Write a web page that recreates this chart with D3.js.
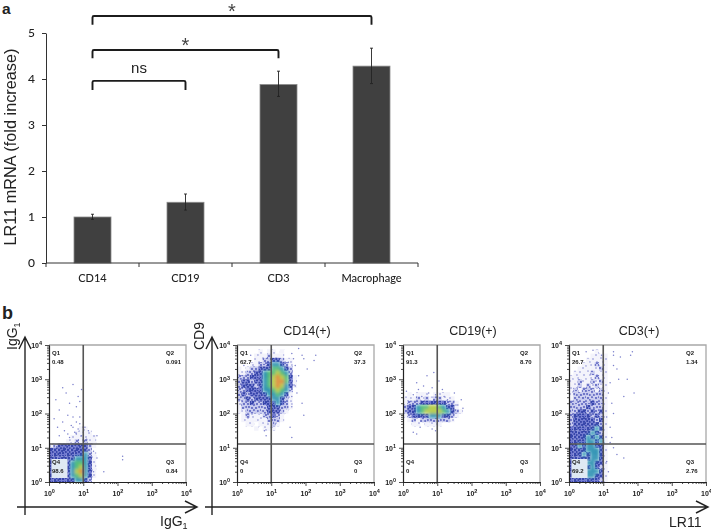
<!DOCTYPE html>
<html><head><meta charset="utf-8">
<script src="https://cdn.jsdelivr.net/npm/d3@7/dist/d3.min.js"></script>
<style>
html,body{margin:0;padding:0;background:#fff}
svg{display:block}
text{fill:#222}
.sans{font-family:"Liberation Sans",Arial,sans-serif}
.cal{font-family:Lato,"Open Sans",sans-serif;font-weight:500}
.tiny{font-family:"Liberation Sans",Arial,sans-serif;font-weight:700;font-size:6px;fill:#222}
</style></head><body><svg id="c" width="711" height="530"></svg>
<script>
// ---- Panel a ----
const categories=["CD14","CD19","CD3","Macrophage"];
const foldValues=[1.0,1.32,3.88,4.28];
const errLow=[0.95,1.15,3.62,3.9];
const errHigh=[1.06,1.5,4.17,4.67];
const yTicksA=[0,1,2,3,4,5];
const brackets=[
 {from:"CD14",to:"CD19",level:3.96,tip:3.76,label:"ns"},
 {from:"CD14",to:"CD3",level:4.63,tip:4.45,label:"*"},
 {from:"CD14",to:"Macrophage",level:5.37,tip:5.18,label:"*"}
];
// ---- Panel b : quadrant figures ----
const panelTitles=["","CD14(+)","CD19(+)","CD3(+)"];
const quadQ1=["0.48","62.7","91.3","26.7"];
const quadQ2=["0.091","37.3","8.70","1.34"];
const quadQ3=["0.84","0","0","2.76"];
const quadQ4=["98.6","0","0","69.2"];
const decades=[0,1,2,3,4];
const minorMult=[2,3,4,5,6,7,8,9];
// ---- Density: rows top (10^4) to bottom (10^0), 8 cells per decade, digit = colour level ----
const densityIgG=["","","","","","","","","","","","","","","","","","","",
 "00000001100","00000011110","00000111111","00001121211",
 "12333333321","33333333320","33333333421","33333344431","33333455431","33333456431","33333467431","33333456431","33333344320"];
const densityCD14=["","00000101101","00001112111","00001122332110","00011223443210","10122333554320",
 "11223345565420","22233345676531","23323345677531","23332345676431","22333344565420","23233334454310",
 "22323333443210","12232233343210","12222223332210","11222223332100","01211122321000","01111112221000",
 "00110111210000","00001011100"];
const densityCD19=["","","","","","","","","","","","0101110111100","11121212211100","12223333332210",
 "23345566543310","23345666654321","12333344433210","01212222222100","00110111100"];
const densityCD3=["","000000100","000001111","000011111","000111211","001111121","011112111","111111211","112112121",
 "112121211","121222121","122222221","122222221","222223221","222232221","223323231","233332321","233333231",
 "233333321","333333431","333334321","333343431","333344341","334344331","333344431","333434431","333334431",
 "333344331","333434321","333344431","333344331","333333321"];
const densityColors=["none","none","none","none","#2f93b4","#52bd7a","#b6cc4c","#dc8f3c"];
// hand-placed specks of the three low levels: x,y in a 13-unit tile
const speckLow=[[1,2],[6,1],[11,4],[3,7],[8,8],[12,11],[5,11]];
const speckMid=[[1,1],[4,0],[7,2],[10,1],[12,4],[2,4],[5,5],[9,5],[0,7],[3,8],[7,7],[11,8],[1,11],[5,10],[8,11],[12,12],[6,12]];
const speckHigh=[[0,0],[3,1],[5,0],[8,1],[11,0],[1,3],[4,3],[7,4],[10,3],[12,2],[2,5],[5,6],[9,6],[12,6],[0,7],[3,8],[7,8],[10,9],[12,8],[1,10],[5,10],[8,11],[11,11],[3,12],[6,12]];
// ---- Sparse events (log10 x, log10 y) ----
const pointsIgG=[[.4,2.75],[.7,2.85],[.5,2.6],[.85,2.5],[.95,2.7],[.2,2.4],[.6,2.3],[.8,2.2],[.3,2.1],[.9,2.35],[.55,1.95],[.15,1.85],[.4,1.75],[.7,1.9],[.25,1.6],[.45,1.5],[.65,1.65],[.8,1.75],[.9,1.9],[.85,1.55],[.75,1.45],[.95,1.35],[.6,1.3],[1.05,1.6],[1.15,1.5],[1.4,1.35],[1.3,.9],[1.4,.7],[1.6,.3],[2.15,.75],[2.15,.65],[1.3,.3],[1.2,.5],[1.25,.15],[1.1,1.25],[1.2,1.1],[.7,1.6],[.8,1.4],[.9,1.7],[1,1.45],[.55,1.4],[.3,1.35]];
const pointsCD14=[[1.6,3.75],[1.8,3.9],[1.95,3.6],[1.9,3.7],[2.25,3.55],[2.3,3.7],[1.7,3.4],[1.5,3.5],[1.6,3.2],[1.8,3.1],[1.55,2.9],[1.7,2.8],[1.6,2.5],[1.75,2.6],[1.9,2.3],[1.95,1.95],[1.6,2.2],[1.55,1.6],[.8,1.5],[1,1.6],[.85,1.35],[1.6,1.3],[2.05,3.3],[1.65,3.6],[.4,3.7],[.2,3.4]];
const pointsCD19=[[.4,2.9],[.7,3.1],[.9,3.2],[.6,2.8],[.85,2.75],[1.05,2.95],[.3,2.55],[.55,2.5],[.75,2.6],[.95,2.55],[1.15,2.7],[1.2,2.5],[.1,2.65],[.45,2.7],[1.3,2.4],[1.45,2.3],[1.6,2.25],[1.7,2.4],[1.75,2.15],[1.5,2.6],[.3,1.45],[.5,1.6],[.85,1.55],[.95,1.5],[.4,1.4],[1.15,1.9]];
const pointsCD3=[[.5,3.8],[.7,3.85],[.95,3.7],[1.3,3.7],[1.5,3.65],[1.8,3.7],[1.85,3.8],[1.3,3.4],[1.4,3.3],[1.45,3],[1.7,3],[1.9,2.6],[1.6,2.5],[1.2,2.9],[1.25,2.3],[1.3,2],[1.2,1.6],[1.25,1.3],[1.4,.8],[1.6,.7],[1.3,1],[1.15,2.6],[1.1,1.9],[1.2,1.15],[1.1,.6],[1.15,.3],[1.3,3.8]];

const svg=d3.select("#c");
const defs=svg.append("defs");
const mkBlur=(id,s)=>defs.append("filter").attr("id",id).attr("x","-5%").attr("y","-5%").attr("width","110%").attr("height","110%")
  .append("feGaussianBlur").attr("stdDeviation",s);
mkBlur("soft",1.6);mkBlur("grain",.55);mkBlur("softer",.35);
const mkPat=(id,specks,col,bg,r)=>{
  const p=defs.append("pattern").attr("id",id).attr("patternUnits","userSpaceOnUse").attr("width",13).attr("height",13);
  if(bg)p.append("rect").attr("width",13).attr("height",13).attr("fill",bg);
  p.selectAll("circle").data(specks).join("circle").attr("cx",d=>d[0]).attr("cy",d=>d[1]).attr("r",r).attr("fill",col);
};
mkPat("lv1",speckLow,"#7f85d2","#f3f3fb",.8);
mkPat("lv2",speckMid,"#4750b8","#c6c9ee",.9);
mkPat("lv3",speckHigh,"#26359f","#6f78cf",1);
const fillFor=l=>l<=3?`url(#lv${l})`:densityColors[l];

// Panel a
const ax=d3.scaleBand().domain(categories).range([46,418]);
const ay=d3.scaleLinear().domain([0,5]).range([263,33]);
const gA=svg.append("g").attr("filter","url(#softer)");
const barW=37;
gA.selectAll("rect.bar").data(categories).join("rect")
  .attr("x",d=>ax(d)+ax.bandwidth()/2-barW/2).attr("width",barW)
  .attr("y",(d,i)=>ay(foldValues[i])).attr("height",(d,i)=>ay(0)-ay(foldValues[i]))
  .attr("fill","#404040").attr("stroke","#8a8a8a").attr("stroke-width",.8);
const eb=gA.selectAll("g.eb").data(categories).join("g").attr("transform",d=>`translate(${ax(d)+ax.bandwidth()/2},0)`);
eb.append("line").attr("y1",(d,i)=>ay(errLow[i])).attr("y2",(d,i)=>ay(errHigh[i])).attr("stroke","#222").attr("stroke-width",.9);
[errLow,errHigh].forEach(a=>eb.append("line").attr("x1",-1.5).attr("x2",1.5).attr("y1",(d,i)=>ay(a[i])).attr("y2",(d,i)=>ay(a[i])).attr("stroke","#222").attr("stroke-width",.9));
const axAx=gA.append("g").attr("transform","translate(0,263)").call(d3.axisBottom(ax).tickSize(0).tickPadding(11));
axAx.select(".domain").remove();
axAx.selectAll("text").attr("class","cal").style("font-size","11px");
gA.append("g").attr("transform","translate(0,263)").call(d3.axisBottom(ax).tickValues([]).tickSizeOuter(0))
  .select(".domain").attr("stroke","#333").attr("d","M46,0H418");
gA.selectAll("line.sep").data(d3.range(5)).join("line").attr("x1",d=>46+d*ax.step()).attr("x2",d=>46+d*ax.step()).attr("y1",263).attr("y2",267).attr("stroke","#333");
const ayAx=gA.append("g").attr("transform","translate(46,0)").call(d3.axisLeft(ay).tickValues(yTicksA).tickFormat(d3.format("d")).tickSize(4).tickSizeOuter(0).tickPadding(7));
ayAx.selectAll("text").attr("class","cal").style("font-size","12px");
ayAx.select(".domain").attr("stroke","#333");ayAx.selectAll("line").attr("stroke","#333");
gA.append("text").attr("class","sans").attr("transform","translate(16,147) rotate(-90)").attr("text-anchor","middle").style("font-size","16.3px").text("LR11 mRNA (fold increase)");
const cx=d=>ax(d)+ax.bandwidth()/2;
const bg=gA.selectAll("g.br").data(brackets).join("g");
bg.append("path").attr("fill","none").attr("stroke","#1a1a1a").attr("stroke-width",1.9)
  .attr("d",d=>`M${cx(d.from)},${ay(d.tip)}V${ay(d.level)+1.5}Q${cx(d.from)},${ay(d.level)} ${cx(d.from)+1.5},${ay(d.level)}H${cx(d.to)-1.5}Q${cx(d.to)},${ay(d.level)} ${cx(d.to)},${ay(d.level)+1.5}V${ay(d.tip)}`);
bg.append("text").attr("class","sans").attr("text-anchor","middle")
  .attr("x",d=>d.label==="ns"?139:(cx(d.from)+cx(d.to))/2)
  .attr("y",d=>d.label==="ns"?ay(d.level)-8:ay(d.level)+2)
  .style("font-size",d=>d.label==="ns"?"15px":"20px").style("fill",d=>d.label==="ns"?"#222":"#444").text(d=>d.label);
svg.append("text").attr("class","sans").attr("x",2).attr("y",14).style("font-size","15.5px").style("font-weight","700").text("a");
svg.append("text").attr("class","sans").attr("x",2).attr("y",319).style("font-size","18px").style("font-weight","700").text("b");

// Panel b
const panelLefts=[49,237,403,569];
const densities=[densityIgG,densityCD14,densityCD19,densityCD3];
const pointsets=[pointsIgG,pointsCD14,pointsCD19,pointsCD3];
const labelBoxes=[true,false,false,true];
const gB=svg.append("g").attr("filter","url(#softer)");
panelLefts.forEach((L,pi)=>{
  const x=d3.scaleLog().domain([1,1e4]).range([L,L+137]);
  const y=d3.scaleLog().domain([1,1e4]).range([482,345]);
  const P=v=>Math.pow(10,v);
  const g=gB.append("g");
  const cid="clip"+pi;
  defs.append("clipPath").attr("id",cid).append("rect").attr("x",L).attr("y",345).attr("width",137).attr("height",137);
  const clipG=g.append("g").attr("clip-path",`url(#${cid})`);
  const cells=[];
  densities[pi].forEach((row,r)=>{row.split("").forEach((ch,c)=>{if(+ch>0)cells.push({r,c,l:+ch});});});
  cells.sort((a,b)=>a.l-b.l);
  const drawCells=(sel,data)=>sel.selectAll("rect").data(data).join("rect")
    .attr("x",d=>x(P(d.c/8))).attr("y",d=>y(P(4-d.r/8)))
    .attr("width",d=>x(P((d.c+1)/8))-x(P(d.c/8))+.1).attr("height",d=>y(P(4-(d.r+1)/8))-y(P(4-d.r/8))+.1)
    .attr("fill",d=>fillFor(d.l));
  drawCells(clipG.append("g").attr("filter","url(#grain)"),cells.filter(d=>d.l<=3));
  drawCells(clipG.append("g").attr("filter","url(#soft)"),cells.filter(d=>d.l>3));
  g.append("g").selectAll("circle").data(pointsets[pi]).join("circle")
    .attr("cx",d=>x(P(d[0]))).attr("cy",d=>y(P(d[1]))).attr("r",.75).attr("fill","#7c80cc");
  // frame
  g.append("path").attr("fill","none").attr("stroke","#a8a8a8").attr("stroke-width",1.3)
    .attr("d",`M${L},345H${L+137}V482`);
  // quadrant lines
  g.append("line").attr("x1",x(P(1))).attr("x2",x(P(1))).attr("y1",345).attr("y2",482).attr("stroke","#555").attr("stroke-width",1.6);
  g.append("line").attr("x1",L).attr("x2",L+137).attr("y1",y(P(1.11))).attr("y2",y(P(1.11))).attr("stroke","#555").attr("stroke-width",1.3);
  // axes
  const majors=decades.map(P);
  const minors=decades.slice(0,4).flatMap(d=>minorMult.map(m=>m*P(d)));
  const sup=sel=>{sel.selectAll("text").each(function(d){
      const t=d3.select(this);t.text("10").attr("class","tiny").style("font-size","7px");
      t.append("tspan").attr("dy",-2.5).style("font-size","5.5px").text(Math.round(Math.log10(d)));});};
  g.append("g").attr("transform","translate(0,482)").call(d3.axisBottom(x).tickValues(majors).tickFormat(d=>d).tickSize(4).tickPadding(5).tickSizeOuter(0)).call(sup);
  g.append("g").attr("transform","translate(0,482)").call(d3.axisBottom(x).tickValues(minors).tickFormat("").tickSize(2).tickSizeOuter(0));
  g.append("g").attr("transform",`translate(${L},0)`).call(d3.axisLeft(y).tickValues(majors).tickFormat(d=>d).tickSize(4).tickPadding(3).tickSizeOuter(0)).call(sup);
  g.append("g").attr("transform",`translate(${L},0)`).call(d3.axisLeft(y).tickValues(minors).tickFormat("").tickSize(2).tickSizeOuter(0));
  g.selectAll(".domain").attr("stroke","#222").attr("stroke-width",1.1);
  g.selectAll(".tick line").attr("stroke","#222").attr("stroke-width",.8);
  // pale backing of the Q4 label
  if(labelBoxes[pi]) g.append("rect").attr("x",L+2.5).attr("y",459).attr("width",16).attr("height",19).attr("fill","#dfe9f3");
  // quadrant labels
  const q=[["Q1",quadQ1[pi],L+3,355],["Q2",quadQ2[pi],L+117,355],["Q4",quadQ4[pi],L+3,464],["Q3",quadQ3[pi],L+117,464]];
  q.forEach(a=>{
    g.append("text").attr("class","tiny").attr("x",a[2]).attr("y",a[3]).text(a[0]);
    g.append("text").attr("class","tiny").attr("x",a[2]).attr("y",a[3]+8.5).text(a[1]);
  });
  if(panelTitles[pi]) g.append("text").attr("class","sans").attr("text-anchor","middle").attr("x",L+70).attr("y",335).style("font-size","12.5px").text(panelTitles[pi]);
});
// big arrows
const arrows=gB.append("g").attr("fill","none").attr("stroke","#222").attr("stroke-width",1.4);
arrows.append("path").attr("d","M25,515V338M19,349L25,337L31,349");
arrows.append("path").attr("d","M17,507H197M185,501L197,507L185,513");
arrows.append("path").attr("d","M212,515V338M206,349L212,337L218,349");
arrows.append("path").attr("d","M205,507H708M696,501L708,507L696,513");
const lab=gB.append("g").attr("class","sans").style("font-size","14px");
const igv=lab.append("text").attr("transform","translate(17,350) rotate(-90)");
igv.text("IgG");igv.append("tspan").attr("dy",3).style("font-size","9px").text("1");
const igh=lab.append("text").attr("x",160).attr("y",526);
igh.text("IgG");igh.append("tspan").attr("dy",3).style("font-size","9px").text("1");
lab.append("text").attr("transform","translate(204,350) rotate(-90)").text("CD9");
lab.append("text").attr("x",669).attr("y",527).text("LR11");
</script></body></html>
